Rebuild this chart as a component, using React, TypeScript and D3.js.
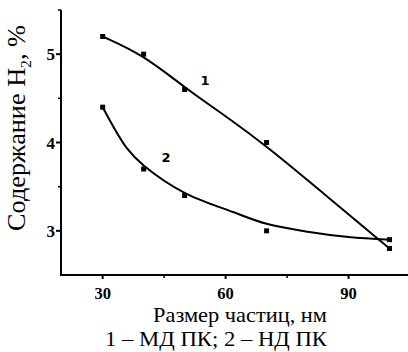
import React from "react";
import * as d3 from "d3";

const W = 408;
const H = 352;

const xPoints = [30, 40, 50, 70, 100];
const series1 = [5.2, 5.0, 4.6, 4.0, 2.8];
const series2 = [4.4, 3.7, 3.4, 3.0, 2.9];

// smooth fitted curves
const fitX1 = [30, 40, 50, 60, 70, 85, 100];
const fit1 = [5.2, 4.99, 4.62, 4.3, 3.96, 3.38, 2.8];
const fitX2 = [30, 36, 40, 50, 62, 70, 80, 90, 100];
const fit2 = [4.4, 3.93, 3.74, 3.43, 3.21, 3.08, 2.99, 2.93, 2.9];

const xTicks = [30, 60, 90];
const xMinor = [45, 75];
const yTicks = [3, 4, 5];
const yMinor = [3.5, 4.5, 5.5];

const xLabel = "Размер частиц, нм";
const legendText = "1 – МД ПК; 2 – НД ПК";

export default function App() {
  const x = d3.scaleLinear().domain([20, 105]).range([61.7, 410]);
  const y = d3.scaleLinear().domain([2.5, 5.5]).range([275, 10]);
  const x0 = 61;
  const yB = 275;

  const line = (xs: number[], ys: number[], curve: d3.CurveFactory) =>
    d3
      .line<number>()
      .x((_, i) => x(xs[i]))
      .y((v) => y(v))
      .curve(curve)(ys) || "";

  const font = "'Liberation Serif', 'DejaVu Serif', serif";

  return (
    <svg
      width={W}
      height={H}
      style={{ position: "absolute", left: 0, top: 0, background: "#fff" }}
    >
      {/* axes */}
      <line x1={x0} x2={x0} y1={10} y2={yB + 1} stroke="#000" strokeWidth={2} />
      <line x1={x0} x2={W} y1={yB} y2={yB} stroke="#000" strokeWidth={2} />
      {yTicks.map((t) => (
        <line key={"yt" + t} x1={x0 - 5} x2={x0} y1={y(t)} y2={y(t)} stroke="#000" strokeWidth={2} />
      ))}
      {yMinor.map((t) => (
        <line key={"ym" + t} x1={x0 - 3} x2={x0} y1={y(t)} y2={y(t)} stroke="#000" strokeWidth={1.5} />
      ))}
      {xTicks.map((t) => (
        <line key={"xt" + t} x1={x(t)} x2={x(t)} y1={yB} y2={yB + 4} stroke="#000" strokeWidth={2} />
      ))}
      {xMinor.map((t) => (
        <line key={"xm" + t} x1={x(t)} x2={x(t)} y1={yB} y2={yB + 3} stroke="#000" strokeWidth={1.5} />
      ))}
      {yTicks.map((t) => (
        <text key={"yl" + t} x={55} y={y(t) + 6} textAnchor="end" fontFamily={font} fontWeight="bold" fontSize={17}>
          {t}
        </text>
      ))}
      {xTicks.map((t) => (
        <text key={"xl" + t} x={x(t)} y={299} textAnchor="middle" fontFamily={font} fontWeight="bold" fontSize={16.5}>
          {t}
        </text>
      ))}
      {/* curves */}
      <path d={line(fitX1, fit1, d3.curveBasis)} fill="none" stroke="#000" strokeWidth={2} />
      <path d={line(fitX2, fit2, d3.curveCatmullRom.alpha(0.5))} fill="none" stroke="#000" strokeWidth={2} />
      {xPoints.map((v, i) => (
        <rect key={"p1" + i} x={x(v) - 2.5} y={y(series1[i]) - 2.5} width={5} height={5} fill="#000" />
      ))}
      {xPoints.map((v, i) => (
        <rect key={"p2" + i} x={x(v) - 2.5} y={y(series2[i]) - 2.5} width={5} height={5} fill="#000" />
      ))}
      <text x={205} y={85} textAnchor="middle" fontFamily="'DejaVu Sans', sans-serif" fontWeight="bold" fontSize={13}>1</text>
      <text x={166} y={162} textAnchor="middle" fontFamily="'DejaVu Sans', sans-serif" fontWeight="bold" fontSize={13}>2</text>
      {/* y label */}
      <text
        transform={`translate(25, 128) rotate(-90)`}
        textAnchor="middle"
        fontFamily={font}
        fontSize={25}
        textLength={206}
        lengthAdjust="spacingAndGlyphs"
      >
        Содержание H<tspan dy={6} fontSize={15}>2</tspan><tspan dy={-6}>, %</tspan>
      </text>
      <text x={240} y={322} textAnchor="middle" fontFamily={font} fontSize={21} textLength={174} lengthAdjust="spacingAndGlyphs">{xLabel}</text>
      <text x={216} y={346} textAnchor="middle" fontFamily={font} fontSize={21} textLength={222} lengthAdjust="spacingAndGlyphs">{legendText}</text>
    </svg>
  );
}
